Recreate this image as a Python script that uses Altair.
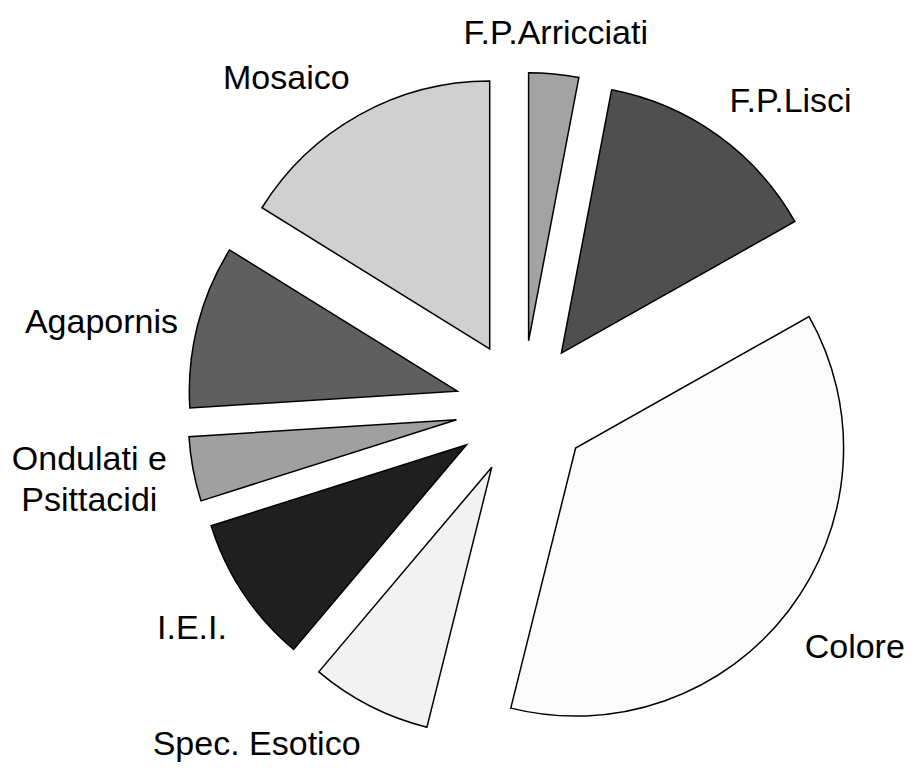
import altair as alt
import pandas as pd

# Slices, clockwise from 12 o'clock
categories = ["F.P.Arricciati", "F.P.Lisci", "Colore", "Spec. Esotico",
              "I.E.I.", "Ondulati e Psittacidi", "Agapornis", "Mosaico"]
values = [10.8, 49.8, 133.4, 26.2, 32.2, 14.0, 35.4, 58.2]
labels = ["F.P.Arricciati", "F.P.Lisci", "Colore", "Spec. Esotico",
          "I.E.I.", "Ondulati e\nPsittacidi", "Agapornis", "Mosaico"]
colors = ["#a3a3a3", "#4f4f4f", "#fbfbfb", "#f2f2f2",
          "#1f1f1f", "#a0a0a0", "#5f5f5f", "#d0d0d0"]

df = pd.DataFrame({
    "idx": list(range(len(categories))),
    "category": categories,
    "value": values,
    "label": labels,
})

W, H = 901, 755
CX, CY = 514.3, 399.5      # pie centre in plot pixels
EXPLODE = 67               # radial offset of every slice
R = 268                    # outer radius
LABEL_RX = 355             # label anchor radius (horizontal)
LABEL_RY = 368             # label anchor radius (vertical)
LINE_H = 41
CHAR_W = 16.8              # approx. average glyph width at the label size

base = alt.Chart(df).transform_window(
    cum="sum(value)", sort=[alt.SortField("idx")]
).transform_joinaggregate(
    total="sum(value)"
).transform_calculate(
    t0="2*PI*(datum.cum - datum.value)/datum.total",
    t1="2*PI*datum.cum/datum.total",
    nl="length(split(datum.label, '\\n'))",
    l1="length(split(datum.label, '\\n')[0])",
).transform_calculate(
    l2="datum.nl > 1 ? length(split(datum.label, '\\n')[1]) : 0",
    tm="(datum.t0 + datum.t1)/2",
).transform_calculate(
    px=f"{CX} + {EXPLODE}*sin(datum.tm)",
    py=f"{CY} - {EXPLODE}*cos(datum.tm)",
    sgn="sin(datum.tm) > 0.3 ? 1 : (sin(datum.tm) < -0.3 ? -1 : 0)",
    ly0=(f"{CY} - {LABEL_RY}*cos(datum.tm) + 5"
         " + (cos(datum.tm) > 0.3 ? -12 : (cos(datum.tm) < -0.3 ? 12 : 0))"
         f" - (datum.nl - 1)*{LINE_H}/2"),
).transform_calculate(
    # multi-line labels are centred as a block beside the slice
    side="datum.nl > 1 ? 'center' : (datum.sgn > 0 ? 'left' : (datum.sgn < 0 ? 'right' : 'center'))",
    lx=(f"{CX} + {LABEL_RX}*sin(datum.tm)"
        f" + (datum.nl > 1 ? datum.sgn*max(datum.l1, datum.l2)*{CHAR_W}/2 : 0)"),
    ly=f"clamp(datum.ly0, 20, {H} - 18)",
)

arcs = base.mark_arc(
    outerRadius=R, stroke="black", strokeWidth=1.5, strokeJoin="miter"
).encode(
    x=alt.X("px:Q", scale=None, axis=None),
    y=alt.Y("py:Q", scale=None, axis=None),
    theta=alt.Theta("t0:Q", scale=None),
    theta2="t1:Q",
    color=alt.Color("category:N",
                    scale=alt.Scale(domain=categories, range=colors),
                    legend=None),
)


def label_layer(al):
    return base.transform_filter(f"datum.side == '{al}'").mark_text(
        align=al, baseline="middle", font="Liberation Sans", fontSize=34,
        lineBreak="\n", lineHeight=LINE_H, color="black"
    ).encode(
        x=alt.X("lx:Q", scale=None, axis=None),
        y=alt.Y("ly:Q", scale=None, axis=None),
        text="label:N",
    )


chart = alt.layer(
    arcs, label_layer("left"), label_layer("right"), label_layer("center")
).properties(
    width=W, height=H, padding=0, autosize="none", background="white"
).configure_view(stroke=None)

chart.save("out.html", embed_options={"renderer": "svg", "actions": False})
